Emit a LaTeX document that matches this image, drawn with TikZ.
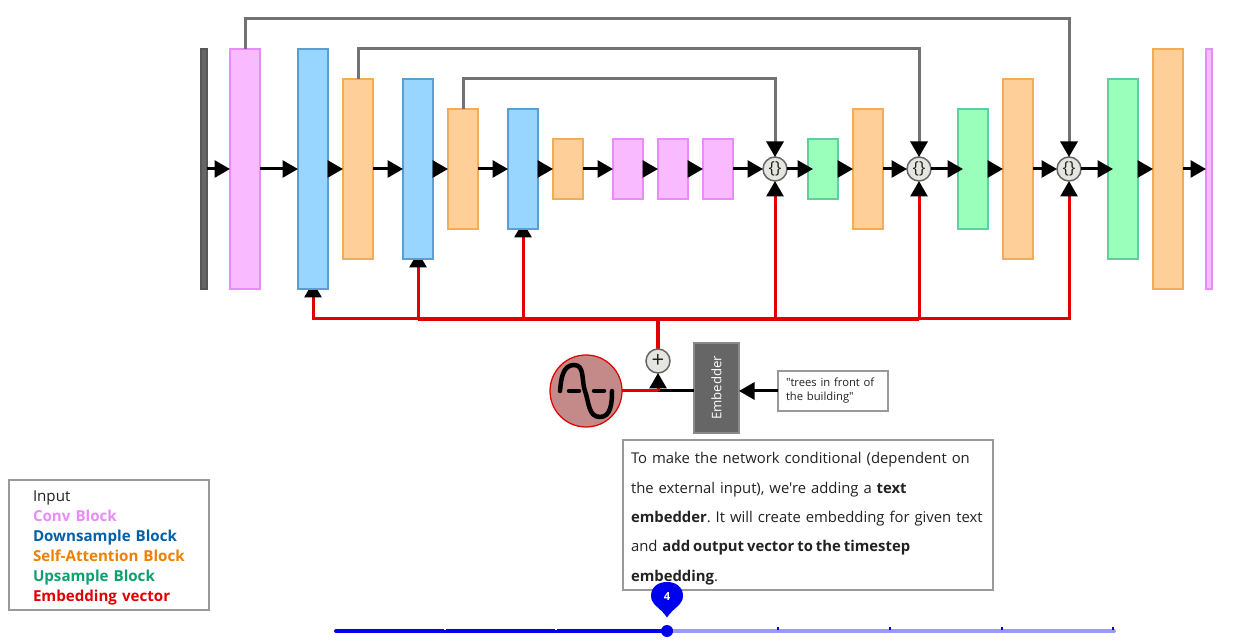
\documentclass[tikz,border=0pt]{standalone}
\usepackage{fontspec}
\setmainfont{Open Sans}[Ligatures=TeXOff]
\usetikzlibrary{arrows.meta, positioning, backgrounds, calc}
\definecolor{convfill}{HTML}{F9BAFF}
\definecolor{convline}{HTML}{E98CF9}
\definecolor{downfill}{HTML}{99D6FF}
\definecolor{downline}{HTML}{5A9FD0}
\definecolor{attnfill}{HTML}{FFCF99}
\definecolor{attnline}{HTML}{F2AC55}
\definecolor{upfill}{HTML}{99FFBB}
\definecolor{upline}{HTML}{5FCF9F}
\definecolor{embred}{HTML}{E00000}
\definecolor{skipgray}{HTML}{666666}
\definecolor{framegray}{HTML}{999999}
\definecolor{sinefill}{HTML}{C48A8A}
\definecolor{opfill}{HTML}{E6E6E0}
\definecolor{inktext}{HTML}{222222}
\definecolor{sliderblue}{HTML}{0000F0}
\definecolor{sliderpale}{HTML}{9999FF}
\tikzset{
  block/.style={rectangle, draw, line width=0.04cm, minimum width=0.6cm, outer sep=0pt, inner sep=0pt},
  conv/.style={block, fill=convfill, draw=convline},
  down/.style={block, fill=downfill, draw=downline},
  attn/.style={block, fill=attnfill, draw=attnline},
  up/.style={block, fill=upfill, draw=upline},
  tall/.style={minimum height=4.8cm},
  high/.style={minimum height=3.6cm},
  mid/.style={minimum height=2.4cm},
  low/.style={minimum height=1.2cm},
  opnode/.style={circle, draw=skipgray, fill=opfill, line width=0.03cm, minimum size=0.48cm, inner sep=0pt, outer sep=0pt, text=inktext, font=\fontsize{9.5}{10}\selectfont},
  tip/.tip={Triangle[length=0.31cm, width=0.34cm, color=black]},
  arr/.style={-tip, line width=0.06cm, black},
  over/.style={arr, shorten >=-0.1cm},
  skip/.style={-tip, line width=0.06cm, skipgray!92!white},
  emb/.style={-tip, line width=0.06cm, embred},
  embin/.style={emb, shorten >=-0.14cm},
  framebox/.style={rectangle, draw=framegray, fill=white, line width=0.04cm, outer sep=0pt, text=inktext},
}
\begin{document}
\frenchspacing
\begin{tikzpicture}[node distance=0.3cm]
  \useasboundingbox (0,0) rectangle (24.74,-12.8);

  \node[block, tall, minimum width=0.12cm, fill=skipgray, draw=skipgray!85!black] (input) at (4.08,-3.38) {};
  \node[conv, tall, right=0.46cm of input] (conva) {};
  \node[down, tall, right=0.76cm of conva] (dna) {};
  \node[attn, high, right=of dna] (attna) {};
  \node[down, high, right=0.6cm of attna] (dnb) {};
  \node[attn, mid, right=of dnb] (attnb) {};
  \node[down, mid, right=0.6cm of attnb] (dnc) {};
  \node[attn, low, right=of dnc] (attnc) {};
  \node[conv, low, right=0.6cm of attnc] (convb) {};
  \node[conv, low, right=of convb] (convc) {};
  \node[conv, low, right=of convc] (convd) {};
  \node[opnode, right=0.6cm of convd] (cata) {\{\}};
  \node[up, low, right=0.42cm of cata] (upa) {};
  \node[attn, mid, right=of upa] (attnd) {};
  \node[opnode, right=0.48cm of attnd] (catb) {\{\}};
  \node[up, mid, right=0.54cm of catb] (upb) {};
  \node[attn, high, right=of upb] (attne) {};
  \node[opnode, right=0.48cm of attne] (catc) {\{\}};
  \node[up, high, right=0.54cm of catc] (upc) {};
  \node[attn, tall, right=of upc] (attnf) {};
  \node[conv, tall, minimum width=0.12cm, right=0.46cm of attnf] (conve) {};

  \foreach \a/\b in {input/conva, conva/dna, dna/attna, attna/dnb, dnb/attnb, attnb/dnc, dnc/attnc,
                     attnc/convb, convb/convc, convc/convd, convd/cata, upa/attnd, attnd/catb,
                     upb/attne, attne/catc, upc/attnf, attnf/conve}
    \draw[arr] (\a) -- (\b);
  \draw[over] (cata) -- (upa);
  \draw[over] (catb) -- (upb);
  \draw[over] (catc) -- (upc);

  \draw[skip] (conva.north) -- ++(0,0.6) -| (catc.north);
  \draw[skip] (attna.north) -- ++(0,0.6) -| (catb.north);
  \draw[skip] (attnb.north) -- ++(0,0.6) -| (cata.north);

  \node[circle, draw=embred, fill=sinefill, line width=0.025cm, minimum size=1.44cm, outer sep=0pt] (sine) at (11.72,-7.82) {};
  \node[opnode, font=\fontsize{12.5}{13}\selectfont] (plus) at (13.16,-7.22) {+};
  \node[rectangle, draw=framegray!90!black, fill=skipgray, line width=0.04cm, minimum width=0.9cm, minimum height=1.8cm, outer sep=0pt, inner sep=0pt] (embed) at (14.33,-7.76)
    {\rotatebox{90}{\color{white}\fontsize{7.5}{9}\selectfont Embedder}};
  \node[framebox, text width=1.88cm, inner xsep=0.16cm, minimum height=0.8cm, inner ysep=0pt, align=left, font=\fontsize{6.4}{8}\selectfont] (prompt) at (16.66,-7.82)
    {"trees in front of\\the building"};
  \coordinate (hub) at (plus |- 0,-6.38);
  \coordinate (join) at (plus |- sine);

  \begin{scope}[on background layer]
    \draw[emb, -] (plus) -- (hub);
    \draw[embin] (hub) -| (dna);
    \draw[embin] (hub) -| (dnb);
    \draw[embin] (hub) -| (dnc);
    \draw[emb] (hub) -| (cata);
    \draw[emb] (hub) -| (catb);
    \draw[emb] (hub) -| (catc);
    \draw[embred, line width=0.08cm] (dnb |- hub) -- (catb |- hub);
    \draw[embred, line width=0.08cm] (plus) -- (hub);
  \end{scope}

  \draw[emb, -] (sine) -- (join);
  \draw[arr, -] (embed.west |- join) -- (join);
  \draw[emb] (join) -- (plus);
  \draw[arr] (prompt) -- (prompt -| embed.east);

  \begin{scope}[shift={(sine)}]
    \draw[black, line width=0.09cm, line cap=round] (-0.52,0) to[out=85,in=180] (-0.24,0.52) to[out=0,in=110] (-0.02,0) to[out=-70,in=180] (0.28,-0.52) to[out=0,in=-90] (0.52,0);
    \draw[black, line width=0.09cm, line cap=round] (-0.34,0) -- (-0.14,0);
    \draw[black, line width=0.09cm, line cap=round] (0.16,0) -- (0.36,0);
  \end{scope}

  \node[framebox, anchor=north west, text width=7.08cm, inner xsep=0.16cm, inner ysep=0pt, minimum height=3cm, align=left, font=\fontsize{8.45}{16.68}\selectfont] (note) at (12.46,-8.8)
    {\rule{0pt}{0.37cm}To make the network conditional (dependent on\\the external input), we're adding a \textbf{text}\\\textbf{embedder}. It will create embedding for given text\\and \textbf{\spaceskip=0.2em add output vector to the timestep}\\\textbf{embedding}.};

  \node[framebox, anchor=north west, text width=3.04cm, inner xsep=0.48cm, inner ysep=0pt, minimum height=2.6cm, align=left, font=\fontsize{8.6}{11.38}\selectfont] (legend) at (0.18,-9.6)
    {\rule{0pt}{0.35cm}Input\\
     \textbf{\color{convline}Conv Block}\\
     \textbf{\color[HTML]{0060A8}Downsample Block}\\
     \textbf{\color[HTML]{EE8000}Self-Attention Block}\\
     \textbf{\color[HTML]{0AA070}Upsample Block}\\
     \textbf{\color{embred}Embedding vector}};

  \coordinate (trackl) at (6.72,-12.62);
  \coordinate (trackr) at (22.28,-12.62);
  \node[circle, fill=sliderblue, minimum size=0.24cm, inner sep=0pt, outer sep=0pt] (knob) at (13.34,-12.62) {};
  \begin{scope}[on background layer]
    \draw[sliderpale, line width=0.08cm, line cap=round] (knob) -- (trackr);
    \draw[sliderblue, line width=0.08cm, line cap=round] (trackl) -- (knob);
  \end{scope}
  \foreach \x in {8.9,11.12}
    \draw[white, line width=0.03cm] (\x,-12.54) -- (\x,-12.6);
  \foreach \x in {15.56,17.8,20.04,22.26}
    \draw[sliderblue, line width=0.03cm] (\x,-12.54) -- (\x,-12.6);
  \fill[sliderblue] (13.34,-12.35) .. controls (13.22,-12.16) and (13.02,-12.1) .. (13.02,-11.92) .. controls (13.02,-11.74) and (13.16,-11.64) .. (13.34,-11.64) .. controls (13.52,-11.64) and (13.66,-11.74) .. (13.66,-11.92) .. controls (13.66,-12.1) and (13.46,-12.16) .. (13.34,-12.35) -- cycle;
  \node[inner sep=0pt, text=white, font=\bfseries\fontsize{6.4}{7}\selectfont] (pin) at (13.34,-11.92) {4};
\end{tikzpicture}
\end{document}
